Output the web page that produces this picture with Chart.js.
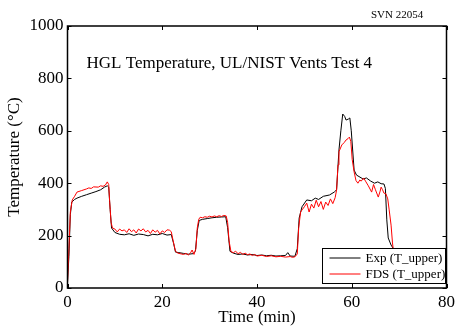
<!DOCTYPE html>
<html>
<head>
<meta charset="utf-8">
<title>HGL Temperature, UL/NIST Vents Test 4</title>
<script src="https://cdn.jsdelivr.net/npm/chart.js@4.4.1/dist/chart.umd.min.js"></script>
<style>
  html, body { margin: 0; padding: 0; background: #fff; }
  #chart { display: block; }
</style>
</head>
<body>
<canvas id="chart" width="459" height="328"></canvas>
<script>
// valori (tempo in minuti, temperatura in °C)
const expTime = [0, 0.3, 0.6, 0.9, 1.5, 2, 3, 4, 5, 6, 7, 7.8, 8.4, 8.7, 9.0, 9.3, 10, 11, 12, 13, 14, 15, 16, 17, 18, 19, 20, 21, 21.9, 22.4, 22.8, 23.5, 24.5, 25.5, 26.5, 27.0, 27.4, 27.8, 28.5, 29.5, 30.5, 31.5, 32.5, 33.4, 33.8, 34.3, 35, 36, 37, 38, 39, 40, 41, 42, 43, 44, 45, 46, 46.5, 47, 48, 48.5, 48.9, 49.5, 50.5, 51.5, 52.3, 53, 54, 55.3, 56.3, 56.8, 57.3, 57.7, 58.1, 58.5, 58.8, 59.3, 59.6, 59.9, 60.5, 61, 62.4, 63.1, 64, 64.8, 65.5, 66.2, 66.8, 67.1, 67.4, 67.7, 68.3, 68.8];
const expTemp = [22, 120, 280, 328, 338, 343, 350, 356, 362, 368, 375, 385, 390, 385, 300, 229, 212, 205, 203, 207, 201, 206, 204, 199, 205, 203, 208, 202, 204, 170, 137, 135, 132, 129, 131, 140, 220, 258, 262, 265, 268, 270, 271, 272, 230, 140, 133, 128, 130, 126, 128, 124, 126, 123, 125, 122, 123, 124, 135, 122, 121, 150, 267, 310, 336, 333, 343, 338, 350, 355, 366, 375, 527, 600, 664, 655, 641, 645, 649, 600, 450, 431, 416, 420, 408, 400, 405, 398, 397, 380, 260, 191, 164, 150];

const fdsTime = [0, 0.3, 0.6, 1, 1.5, 2, 3, 4, 4.5, 5, 5.5, 6.5, 7, 7.5, 8, 8.4, 8.7, 8.9, 9.2, 9.5, 10, 10.5, 11, 11.5, 12, 12.5, 13, 13.5, 14, 14.5, 15, 15.5, 16, 16.5, 17, 17.5, 18, 18.5, 19, 19.5, 20, 20.5, 21, 21.5, 21.9, 22.3, 22.8, 23.3, 24, 24.5, 25, 25.5, 26, 26.3, 26.7, 27.1, 27.4, 27.7, 28, 28.5, 29, 29.5, 30, 30.5, 31, 31.5, 32, 32.5, 33, 33.5, 33.8, 34.1, 34.5, 35, 35.5, 36, 36.5, 37, 37.5, 38, 38.5, 39, 39.5, 40, 41, 42, 43, 44, 45, 46, 47, 47.5, 48, 48.5, 48.8, 49.2, 49.5, 50, 50.5, 51, 51.5, 52, 52.5, 53, 53.5, 54, 54.5, 55, 55.5, 56, 56.5, 56.8, 57.1, 57.3, 57.9, 58.4, 58.8, 59.2, 59.5, 59.8, 60.1, 60.5, 60.9, 61.3, 61.7, 62, 62.5, 63, 63.5, 64.2, 64.6, 65, 65.6, 66, 66.2, 66.5, 66.8, 67.2, 67.6, 67.9, 68.3, 68.6, 69, 69.5, 70, 75, 80];
const fdsTemp = [20, 150, 290, 336, 350, 366, 372, 378, 382, 380, 386, 385, 390, 388, 393, 405, 395, 330, 250, 229, 225, 214, 225, 218, 222, 212, 226, 215, 222, 210, 225, 218, 226, 214, 220, 208, 222, 213, 220, 206, 218, 212, 222, 221, 215, 180, 140, 133, 130, 128, 132, 126, 135, 145, 128, 150, 230, 262, 270, 268, 272, 270, 274, 271, 275, 272, 276, 273, 277, 275, 250, 180, 139, 135, 140, 131, 136, 128, 133, 127, 130, 124, 128, 122, 125, 120, 123, 119, 121, 118, 120, 117, 119, 130, 230, 290, 298, 310, 324, 290, 320, 305, 335, 310, 330, 300, 328, 315, 340, 322, 345, 374, 470, 520, 546, 555, 565, 570, 576, 560, 490, 443, 410, 400, 412, 408, 420, 405, 390, 366, 395, 375, 347, 370, 385, 375, 362, 360, 340, 298, 240, 172, 110, 75, 65, 60, 58];

const seriesLabels = ['Exp (T_upper)', 'FDS (T_upper)'];
const seriesColors = ['#000000', '#ff0000'];

const xTicks = [0, 20, 40, 60, 80];
const yTicks = [0, 200, 400, 600, 800, 1000];

const chartTitle = 'HGL Temperature, UL/NIST Vents Test 4';
const revision = 'SVN 22054';

const serif = "'Liberation Serif', 'DejaVu Serif', serif";

function toPoints(times, temps) {
    return times.map((t, i) => ({ x: t, y: temps[i] }));
}

// cornice, tacche interne, titolo e legenda alla maniera di matlab
const framePlugin = {
    id: 'frame',
    afterDatasetsDraw(chart) {
        const ctx = chart.ctx;
        const a = chart.chartArea;
        const xs = chart.scales.x;
        const ys = chart.scales.y;
        const tick = 4;

        ctx.save();
        ctx.strokeStyle = '#000';
        ctx.lineWidth = 1;

        // tacche
        ctx.beginPath();
        xTicks.forEach(v => {
            const px = Math.round(xs.getPixelForValue(v)) + 0.5;
            ctx.moveTo(px, a.bottom);
            ctx.lineTo(px, a.bottom - tick);
            ctx.moveTo(px, a.top);
            ctx.lineTo(px, a.top + tick);
        });
        yTicks.forEach(v => {
            const py = Math.round(ys.getPixelForValue(v)) + 0.5;
            ctx.moveTo(a.left, py);
            ctx.lineTo(a.left + tick, py);
            ctx.moveTo(a.right, py);
            ctx.lineTo(a.right - tick, py);
        });
        ctx.stroke();

        // titolo dentro il grafico
        ctx.fillStyle = '#000';
        ctx.font = '17px ' + serif;
        ctx.textAlign = 'left';
        ctx.textBaseline = 'alphabetic';
        ctx.fillText(chartTitle, a.left + 19, a.top + 42);

        ctx.font = '11px ' + serif;
        ctx.fillText(revision, 371, 18);

        // legenda
        const lx = 322.5, ly = 248.5, lw = 123, lh = 35;
        ctx.fillStyle = '#fff';
        ctx.fillRect(lx, ly, lw, lh);
        ctx.strokeRect(lx, ly, lw, lh);
        ctx.font = '13px ' + serif;
        ctx.textBaseline = 'middle';
        seriesLabels.forEach((label, i) => {
            const y = ly + 9.5 + i * 16;
            ctx.strokeStyle = seriesColors[i];
            ctx.beginPath();
            ctx.moveTo(lx + 7, y);
            ctx.lineTo(lx + 38, y);
            ctx.stroke();
            ctx.fillStyle = '#000';
            ctx.fillText(label, lx + 43, y + 1);
        });

        // bordo
        ctx.strokeStyle = '#000';
        ctx.lineWidth = 1.5;
        ctx.strokeRect(a.left, a.top, a.right - a.left, a.bottom - a.top);
        ctx.restore();
    }
};

const ctx = document.getElementById('chart');
new Chart(ctx, {
    type: 'line',
    data: {
        datasets: [
            {
                label: seriesLabels[0],
                data: toPoints(expTime, expTemp),
                borderColor: seriesColors[0],
                borderWidth: 1,
                pointRadius: 0,
                tension: 0,
                order: 1
            },
            {
                label: seriesLabels[1],
                data: toPoints(fdsTime, fdsTemp),
                borderColor: seriesColors[1],
                borderWidth: 1,
                pointRadius: 0,
                tension: 0,
                order: 0
            }
        ]
    },
    options: {
        responsive: false,
        animation: false,
        devicePixelRatio: 1,
        layout: { padding: { left: 0, top: 26, right: 8, bottom: 0 } },
        plugins: {
            legend: { display: false },
            title: { display: false },
            tooltip: { enabled: false }
        },
        scales: {
            x: {
                type: 'linear',
                min: 0,
                max: 80,
                afterBuildTicks(scale) { scale.ticks = xTicks.map(v => ({ value: v })); },
                afterFit(scale) { scale.height = 40; },
                grid: { display: false, drawTicks: false },
                border: { display: false },
                ticks: { color: '#000', padding: 4, maxRotation: 0, font: { family: serif, size: 17 }, callback: v => String(v) },
                title: { display: true, text: 'Time (min)', color: '#000', padding: 0, font: { family: serif, size: 17 } }
            },
            y: {
                type: 'linear',
                min: 0,
                max: 1000,
                afterBuildTicks(scale) { scale.ticks = yTicks.map(v => ({ value: v })); },
                afterFit(scale) { scale.width = 67.5; },
                grid: { display: false, drawTicks: false },
                border: { display: false },
                ticks: { color: '#000', padding: 4, font: { family: serif, size: 17 }, callback: v => String(v) },
                title: { display: true, text: 'Temperature (°C)', color: '#000', padding: { top: 4, bottom: 0 }, font: { family: serif, size: 17 } }
            }
        }
    },
    plugins: [framePlugin]
});
</script>
</body>
</html>
